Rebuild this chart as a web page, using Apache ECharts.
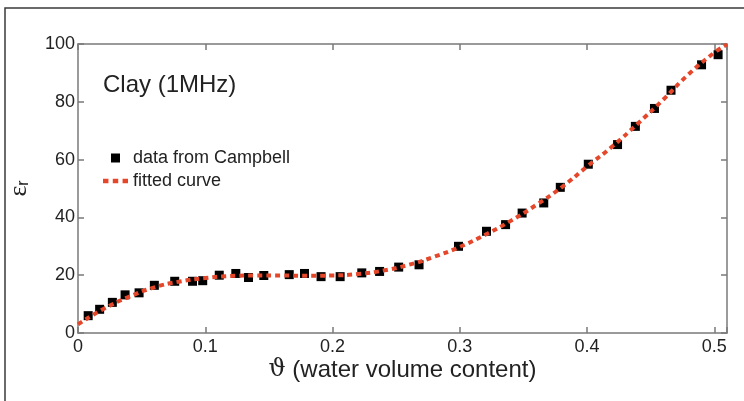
<!DOCTYPE html>
<html>
<head>
<meta charset="utf-8">
<script src="https://cdn.jsdelivr.net/npm/echarts@6/dist/echarts.min.js"></script>
<style>
  html, body { margin: 0; padding: 0; background: #fff; }
  #chart { width: 744px; height: 401px; }
</style>
</head>
<body>
<div id="chart"></div>
<script>
// measured points (Campbell)
var dataX = [0.008, 0.017, 0.027, 0.037, 0.048, 0.060, 0.076, 0.090, 0.098, 0.111, 0.124, 0.134, 0.146,
    0.166, 0.178, 0.191, 0.206, 0.223, 0.237, 0.252, 0.268, 0.299, 0.321, 0.336, 0.349, 0.366, 0.379,
    0.401, 0.424, 0.438, 0.453, 0.466, 0.490, 0.503];
var dataY = [6.0, 8.2, 10.6, 13.2, 13.9, 16.5, 17.9, 17.9, 18.1, 20.0, 20.6, 19.2, 19.9,
    20.2, 20.6, 19.5, 19.5, 20.8, 21.3, 22.8, 23.6, 30.0, 35.2, 37.5, 41.5, 45.0, 50.4,
    58.4, 65.2, 71.5, 77.7, 84.0, 92.8, 96.3];

// fitted curve
var fitX = [0, 0.02, 0.04, 0.06, 0.08, 0.10, 0.12, 0.14, 0.16, 0.18, 0.20, 0.22, 0.24, 0.26,
    0.28, 0.30, 0.32, 0.34, 0.36, 0.38, 0.40, 0.42, 0.44, 0.46, 0.48, 0.50, 0.51];
var fitY = [3.0, 8.3, 12.5, 15.8, 17.8, 19.0, 19.7, 19.9, 19.9, 19.8, 19.9, 20.4, 21.6, 23.6,
    26.4, 29.8, 34.0, 38.8, 44.3, 50.4, 57.6, 64.6, 72.5, 80.8, 89.6, 97.0, 99.8];

var xTicks = [0, 0.1, 0.2, 0.3, 0.4, 0.5];
var yTicks = [0, 20, 40, 60, 80, 100];

var scatterData = [];
for (var i = 0; i < dataX.length; i++) {
    scatterData.push([dataX[i], dataY[i]]);
}
var fitData = [];
for (var j = 0; j < fitX.length; j++) {
    fitData.push([fitX[j], fitY[j]]);
}

var axisGray = '#7a7a7a';
var font = 'Liberation Sans, Arial, sans-serif';
var red = '#e5472b';

function boxAxis(extra) {
    var a = {
        type: 'value',
        axisLine: { show: true, onZero: false, lineStyle: { color: axisGray, width: 1.5 } },
        axisTick: { show: true, inside: true, length: 6, lineStyle: { color: axisGray, width: 1.5 } },
        axisLabel: { show: false },
        splitLine: { show: false }
    };
    for (var k in extra) a[k] = extra[k];
    return a;
}

var chart = echarts.init(document.getElementById('chart'), null, { renderer: 'canvas' });

var option = {
    backgroundColor: '#fff',
    animation: false,
    textStyle: { fontFamily: font },
    grid: { left: 78, top: 44, right: 17, bottom: 68, containLabel: false, outerBoundsMode: 'none' },
    graphic: [
        {
            type: 'rect',
            shape: { x: 5, y: 8, width: 800, height: 500 },
            style: { fill: 'none', stroke: '#3a3a3a', lineWidth: 1.5 },
            silent: true
        },
        {
            type: 'text',
            left: 103,
            top: 73,
            style: { text: 'Clay (1MHz)', fontSize: 24, fontFamily: font, fill: '#222' }
        }
    ],
    legend: {
        orient: 'vertical',
        left: 103,
        top: 149,
        padding: 0,
        itemWidth: 25,
        itemHeight: 9,
        itemGap: 5,
        textStyle: { fontSize: 18, color: '#222', fontFamily: font, lineHeight: 18 },
        data: [
            { name: 'data from Campbell', icon: 'path://M0,0h10v10h-10z' },
            { name: 'fitted curve', icon: 'path://M0,0h5v4h-5zM9,0h5v4h-5zM18,0h5v4h-5z' }
        ]
    },
    xAxis: [
        boxAxis({
            min: 0,
            max: 0.51,
            interval: 0.1,
            name: '{t|ϑ} (water volume content)',
            nameLocation: 'middle',
            nameGap: 25,
            nameMoveOverlap: false,
            nameTextStyle: {
                fontSize: 24, color: '#222', fontFamily: font,
                rich: { t: { fontSize: 24, fontFamily: 'DejaVu Serif', color: '#222' } }
            },
            axisLabel: {
                show: true, fontSize: 18, color: '#222', margin: 5,
                formatter: function (v) {
                    var r = Math.round(v * 10) / 10;
                    return xTicks.indexOf(r) >= 0 && Math.abs(r - v) < 1e-6 ? String(r) : '';
                }
            }
        }),
        boxAxis({ position: 'top', min: 0, max: 0.51, interval: 0.1 })
    ],
    yAxis: [
        boxAxis({
            min: 0,
            max: 100,
            interval: 20,
            name: '{e|ε}{r|r}',
            nameLocation: 'middle',
            nameRotate: 90,
            nameGap: 46,
            nameMoveOverlap: false,
            nameTextStyle: {
                color: '#222',
                rich: {
                    e: { fontSize: 26, fontFamily: 'Liberation Serif', color: '#222' },
                    r: { fontSize: 16, fontFamily: font, color: '#222', padding: [10, 0, 0, 0] }
                }
            },
            axisLabel: {
                show: true, fontSize: 18, color: '#222', margin: 3,
                formatter: function (v) { return yTicks.indexOf(v) >= 0 ? String(v) : ''; }
            }
        }),
        boxAxis({ position: 'right', min: 0, max: 100, interval: 20 })
    ],
    series: [
        {
            name: 'data from Campbell',
            type: 'scatter',
            symbol: 'rect',
            symbolSize: 9,
            itemStyle: { color: '#000', opacity: 1 },
            data: scatterData,
            z: 2
        },
        {
            name: 'fitted curve',
            type: 'line',
            smooth: true,
            showSymbol: false,
            symbol: 'none',
            lineStyle: { color: red, width: 4, type: [5, 4] },
            itemStyle: { color: red },
            data: fitData,
            z: 3
        }
    ]
};

chart.setOption(option);
</script>
</body>
</html>
